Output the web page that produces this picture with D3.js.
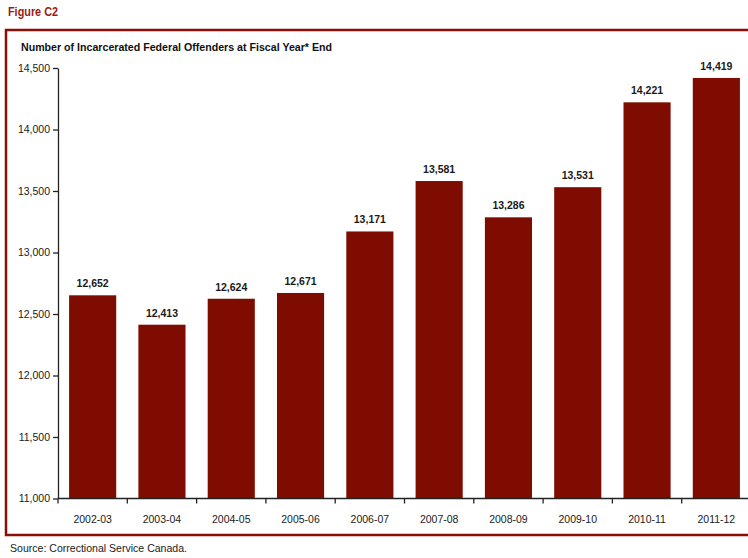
<!DOCTYPE html>
<html>
<head>
<meta charset="utf-8">
<script src="https://cdn.jsdelivr.net/npm/d3@7/dist/d3.min.js"></script>
<style>
  html, body { margin: 0; padding: 0; background: #fff; }
  svg { display: block; font-family: "Liberation Sans Narrow", "Arial Narrow", "Liberation Sans", Arial, sans-serif; }
</style>
</head>
<body>
<svg id="chart" width="748" height="558"></svg>
<script>
// Fiscal years and incarcerated federal offender counts at year end
const years = ["2002-03", "2003-04", "2004-05", "2005-06", "2006-07",
               "2007-08", "2008-09", "2009-10", "2010-11", "2011-12"];
const offenders = [12652, 12413, 12624, 12671, 13171, 13581, 13286, 13531, 14221, 14419];
const yTicks = [11000, 11500, 12000, 12500, 13000, 13500, 14000, 14500];

const svg = d3.select("#chart");
const barColor = "#7f0c00";
const frameColor = "#8a0f06";

// Figure label (condensed to a fixed width)
svg.append("text")
  .attr("x", 8).attr("y", 16)
  .attr("font-size", 12.5).attr("font-weight", "bold")
  .attr("fill", "#9b1a10")
  .attr("textLength", 50).attr("lengthAdjust", "spacingAndGlyphs")
  .text("Figure C2");

// Frame around the chart panel (open on the right edge)
svg.append("path")
  .attr("d", "M 760 30 H 6 V 535 H 760")
  .attr("fill", "none")
  .attr("stroke", frameColor)
  .attr("stroke-width", 2.5);

// Chart title
svg.append("text")
  .attr("x", 21).attr("y", 51)
  .attr("font-size", 11.5).attr("font-weight", "bold")
  .attr("fill", "#111")
  .attr("textLength", 311).attr("lengthAdjust", "spacingAndGlyphs")
  .text("Number of Incarcerated Federal Offenders at Fiscal Year* End");

const plotLeft = 58, plotRight = 751, plotTop = 68, plotBottom = 498.5;

const x = d3.scaleBand().domain(years).range([plotLeft, plotRight]).paddingInner(0.32).paddingOuter(0.16);
const y = d3.scaleLinear().domain([11000, 14500]).range([plotBottom, plotTop]);

// Bars
svg.append("g").selectAll("rect")
  .data(years)
  .join("rect")
  .attr("x", d => x(d))
  .attr("width", x.bandwidth())
  .attr("y", (d, i) => y(offenders[i]))
  .attr("height", (d, i) => plotBottom - y(offenders[i]))
  .attr("fill", barColor);

// Value labels above the bars
svg.append("g").selectAll("text")
  .data(years)
  .join("text")
  .attr("x", d => x(d) + x.bandwidth() / 2)
  .attr("y", (d, i) => y(offenders[i]) - 8)
  .attr("text-anchor", "middle")
  .attr("font-size", 10.5).attr("font-weight", "bold")
  .attr("fill", "#1a1a1a")
  .text((d, i) => d3.format(",")(offenders[i]));

// Y axis
const yAxis = svg.append("g")
  .attr("transform", `translate(${plotLeft},0)`)
  .call(d3.axisLeft(y).tickValues(yTicks).tickFormat(d3.format(",")).tickSize(5).tickSizeOuter(0));
yAxis.select(".domain").attr("stroke", "#222").attr("stroke-width", 1.3);
yAxis.selectAll(".tick line").attr("stroke", "#222").attr("stroke-width", 1.3);
yAxis.selectAll(".tick text")
  .attr("font-size", 10.5)
  .attr("fill", "#1a1a1a").attr("x", -8);
yAxis.attr("font-family", null);

// X axis: ticks sit at category boundaries
const xAxis = svg.append("g").attr("transform", `translate(0,${plotBottom})`);
xAxis.append("line")
  .attr("x1", plotLeft).attr("x2", plotRight)
  .attr("stroke", "#222").attr("stroke-width", 1.3);
xAxis.selectAll("line.tick")
  .data(d3.range(years.length + 1))
  .join("line")
  .attr("class", "tick")
  .attr("x1", i => plotLeft + i * (plotRight - plotLeft) / years.length)
  .attr("x2", i => plotLeft + i * (plotRight - plotLeft) / years.length)
  .attr("y1", 0).attr("y2", 5)
  .attr("stroke", "#222").attr("stroke-width", 1.3);
xAxis.selectAll("text")
  .data(years)
  .join("text")
  .attr("x", d => x(d) + x.bandwidth() / 2)
  .attr("y", 24)
  .attr("text-anchor", "middle")
  .attr("font-size", 10.5)
  .attr("fill", "#1a1a1a")
  .text(d => d);

// Source note
svg.append("text")
  .attr("x", 10).attr("y", 552)
  .attr("font-size", 11)
  .attr("fill", "#1a1a1a")
  .attr("textLength", 177).attr("lengthAdjust", "spacingAndGlyphs")
  .text("Source: Correctional Service Canada.");
</script>
</body>
</html>
